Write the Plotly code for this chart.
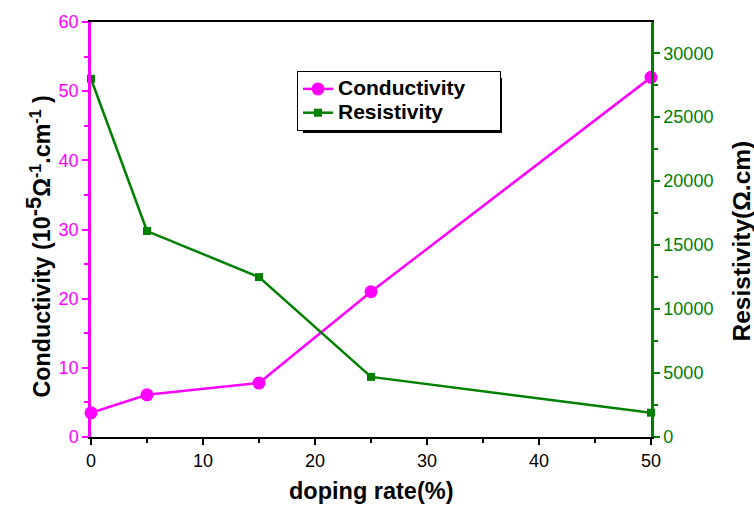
import plotly.graph_objects as go

doping = [0, 5, 15, 25, 50]
conductivity = [3.5, 6.1, 7.8, 21.0, 52.0]
resistivity = [28000, 16100, 12500, 4700, 1900]

MAG = "#FF00FF"
GRN = "#008000"
FONT = "Liberation Sans, Arial, sans-serif"
NB = "&nbsp;"

def leg(name, extra=0):
    return '<span style="font-size:21px"><b>' + name + '</b>' + NB * extra + '</span>'

fig = go.Figure()
fig.add_trace(go.Scatter(
    x=doping, y=conductivity, name=leg("Conductivity", 5), mode="lines+markers",
    line=dict(color=MAG, width=2.5),
    marker=dict(symbol="circle", size=13, color=MAG, line=dict(width=0)),
    yaxis="y", cliponaxis=False))
fig.add_trace(go.Scatter(
    x=doping, y=resistivity, name=leg("Resistivity"), mode="lines+markers",
    line=dict(color=GRN, width=2.5),
    marker=dict(symbol="square", size=8, color=GRN, line=dict(width=0)),
    yaxis="y2", cliponaxis=False))

L, R, T, B = 91, 103, 22, 75
W, H = 754, 512
pw, ph = W - L - R, H - T - B

def px(x):
    return (x - L) / pw

def py(y):
    return (H - B - y) / ph

fig.update_layout(
    width=W, height=H,
    margin=dict(l=L, r=R, t=T, b=B),
    paper_bgcolor="white", plot_bgcolor="white",
    font=dict(family=FONT, size=18, color="black"),
    showlegend=True,
    legend=dict(
        x=px(297), y=py(71), xanchor="left", yanchor="top",
        bgcolor="white", bordercolor="black", borderwidth=1,
        font=dict(family=FONT, size=16, color="black"),
        itemwidth=30, tracegroupgap=0,
    ),
    xaxis=dict(
        range=[0, 50], tick0=0, dtick=10, showgrid=False, zeroline=False,
        showline=True, linecolor="black", linewidth=2, mirror=True,
        ticks="outside", ticklen=6, tickwidth=2, tickcolor="black",
        minor=dict(dtick=5, ticks="outside", ticklen=4, tickwidth=2, tickcolor="black"),
        tickfont=dict(size=18, color="black"),
    ),
    yaxis=dict(
        range=[0, 60], tick0=0, dtick=10, showgrid=False, zeroline=False,
        showline=True, linecolor=MAG, linewidth=2.5,
        ticks="outside", ticklen=6, tickwidth=2, tickcolor=MAG,
        minor=dict(dtick=5, ticks="outside", ticklen=4, tickwidth=2, tickcolor=MAG),
        tickfont=dict(size=18, color=MAG),
    ),
    yaxis2=dict(
        range=[0, 32440], tick0=0, dtick=5000, showgrid=False, zeroline=False,
        overlaying="y", side="right", tickformat="d",
        showline=True, linecolor=GRN, linewidth=2.5,
        ticks="outside", ticklen=6, tickwidth=2, tickcolor=GRN,
        minor=dict(dtick=2500, ticks="outside", ticklen=4, tickwidth=2, tickcolor=GRN),
        tickfont=dict(size=18, color=GRN),
    ),
)

# axis titles as annotations for precise placement
fig.add_annotation(text="<b>doping rate(%)</b>", xref="paper", yref="paper",
                   x=px(371), y=py(491), xanchor="center", yanchor="middle",
                   showarrow=False, font=dict(family=FONT, size=23.5, color="black"))
ytitle = ('<b>Conductivity (10<sup><span style="font-size:22px">-5</span></sup>Ω'
          '<sup><span style="font-size:16px">-1</span></sup>.cm'
          '<sup><span style="font-size:16px">-1</span></sup> )</b>')
fig.add_annotation(text=ytitle,
                   xref="paper", yref="paper", x=px(38), y=py(246.5),
                   xanchor="center", yanchor="middle", textangle=-90,
                   showarrow=False, font=dict(family=FONT, size=23.3, color="black"))
fig.add_annotation(text="<b>Resistivity(Ω.cm)</b>", xref="paper", yref="paper",
                   x=px(741), y=py(241.5), xanchor="center", yanchor="middle", textangle=-90,
                   showarrow=False, font=dict(family=FONT, size=24.5, color="black"))

# legend drop shadow
fig.add_shape(type="rect", xref="paper", yref="paper",
              x0=px(303), x1=px(502), y0=py(133), y1=py(78),
              fillcolor="black", line=dict(width=0), layer="above")

fig.write_html("out.html")
